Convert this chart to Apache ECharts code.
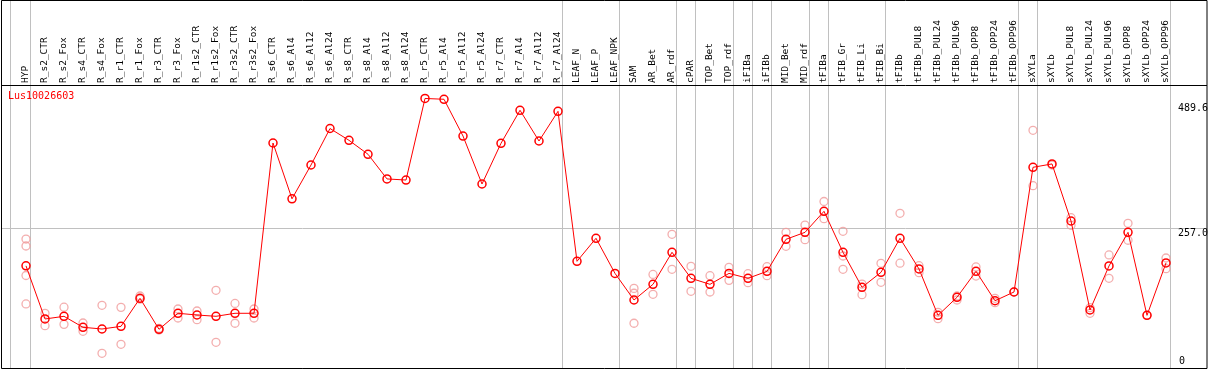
<!DOCTYPE html>
<html><head><meta charset="utf-8">
<script src="https://cdn.jsdelivr.net/npm/echarts@6/dist/echarts.min.js"></script>
<style>html,body{margin:0;padding:0;background:#fff}#c{width:1209px;height:370px}</style>
</head><body><div id="c"></div>
<script>
const chartTitle = 'Lus10026603';
const categories = ['HYP','R_s2_CTR','R_s2_Fox','R_s4_CTR','R_s4_Fox','R_r1_CTR','R_r1_Fox','R_r3_CTR','R_r3_Fox','R_r1s2_CTR','R_r1s2_Fox','R_r3s2_CTR','R_r3s2_Fox','R_s6_CTR','R_s6_Al4','R_s6_Al12','R_s6_Al24','R_s8_CTR','R_s8_Al4','R_s8_Al12','R_s8_Al24','R_r5_CTR','R_r5_Al4','R_r5_Al12','R_r5_Al24','R_r7_CTR','R_r7_Al4','R_r7_Al12','R_r7_Al24','LEAF_N','LEAF_P','LEAF_NPK','SAM','AR_Bet','AR_rdf','cPAR','TOP_Bet','TOP_rdf','iFIBa','iFIBb','MID_Bet','MID_rdf','tFIBa','tFIB_Gr','tFIB_Li','tFIB_Bi','tFIBb','tFIBb_PUL8','tFIBb_PUL24','tFIBb_PUL96','tFIBb_OPP8','tFIBb_OPP24','tFIBb_OPP96','sXYLa','sXYLb','sXYLb_PUL8','sXYLb_PUL24','sXYLb_PUL96','sXYLb_OPP8','sXYLb_OPP24','sXYLb_OPP96'];
const meanValues = [187,88,93,72.5,69.3,74.3,126.5,68.8,98.6,95.4,93,98.6,98.6,416,312,375,443,421,395,349,347,499,497.5,429,339.6,415.5,477,419.7,475,195.5,238.4,173,123.4,152.6,212.3,163.8,152.6,173,163.8,176.8,236.5,249.5,288.7,212.3,147,175,238.4,181.2,94.8,128.4,176.8,122,138.3,370.7,377,270.6,104.8,186.8,249.5,94.8,192.4];
const replicates = [
  [237,224,169,116],[98.6,75.5],[110,78],[80.5,65],[113.5,24],[109.7,40.8],[130.8,125],[70.6,67.5],[106.6,89.8],[102.9,86.7],[141.4,44.5],[117,80],[106.6,89.8],
  [],[],[],[],[],[],[],[],[],[],[],[],[],[],[],[],[],[],[],
  [145,136,80],[171,134],[245.8,180.6],[186.2,139.6],[168.7,138.3],[184.3,160],[172.4,155.6],[185.5,168.7],[249.5,223.4],[263,235.8],[307,275],[251.4,205.4,180.6],[153,133.3],[191.8,156.4],[285,192],[187.3,174.3],[100.5,88.5],[130.8,123.4],[185,168],[126.5,118.4],[138.3],[439.7,336.4],[375],[276.8,262.6],[109,98.6],[207.3,163.8],[266.3,234.7],[94.8],[201.7,181.7]
];
const tickValues = [0, 257.0, 489.6];
const separatorAfter = [0,28,31,34,35,37,38,39,41,42,45,52,53,60];

const FONT = 'DejaVu Sans Mono';
const repData = [];
replicates.forEach((arr, i) => arr.forEach(v => repData.push([categories[i], v])));

const chart = echarts.init(document.getElementById('c'), null, {renderer: 'canvas'});
chart.setOption({
  animation: false,
  backgroundColor: '#fff',
  title: {text: chartTitle, left: 8, top: 91, padding: 0,
    textStyle: {color: '#ff0000', fontSize: 10, fontWeight: 'normal', fontFamily: FONT}},
  grid: {left: 16.5, right: 33.5, top: 85, bottom: 2, containLabel: false},
  xAxis: {type: 'category', data: categories, position: 'top', boundaryGap: true,
    axisLine: {show: false}, axisTick: {show: false}, splitLine: {show: false},
    axisLabel: {rotate: 90, margin: 2, interval: 0, fontSize: 9.5, fontFamily: FONT, color: '#000'}},
  yAxis: {type: 'value', min: -3.36, max: 524.1, show: false, splitLine: {show: false}},
  series: [
    {type: 'scatter', data: repData, symbol: 'circle', symbolSize: 8, z: 2,
      itemStyle: {color: 'rgba(0,0,0,0)', borderColor: '#f09a9a', borderWidth: 1.3}},
    {type: 'line', data: meanValues, symbol: 'circle', symbolSize: 8, z: 3,
      lineStyle: {color: '#ff0000', width: 1},
      itemStyle: {color: 'rgba(0,0,0,0)', borderColor: '#ff0000', borderWidth: 1.5}}
  ]
});

const xPix = i => chart.convertToPixel({xAxisIndex: 0}, categories[i]);
const yPix = v => chart.convertToPixel({yAxisIndex: 0}, v);
const gray = '#c0c0c0';
const g = [];
g.push({type: 'line', z: 0, silent: true, shape: {x1: Math.round(xPix(0)) - 16 + 0.5, y1: 0, x2: Math.round(xPix(0)) - 16 + 0.5, y2: 368}, style: {stroke: gray, lineWidth: 1}});
separatorAfter.forEach(i => {
  const x = Math.round(xPix(i)) + 4 + 0.5;
  g.push({type: 'line', z: 0, silent: true, shape: {x1: x, y1: 0, x2: x, y2: 368}, style: {stroke: gray, lineWidth: 1}});
});
const yMid = Math.round(yPix(257.0)) + 0.5;
g.push({type: 'line', z: 0, silent: true, shape: {x1: 1, y1: yMid, x2: 1207, y2: yMid}, style: {stroke: gray, lineWidth: 1}});
tickValues.forEach(v => {
  const isZero = v === 0;
  g.push({type: 'text', z: 5, silent: true, x: isZero ? 1179 : 1178, y: isZero ? yPix(v) : yPix(v),
    style: {text: isZero ? '0' : v.toFixed(1), fill: '#000', font: '10px "' + FONT + '"',
      textAlign: 'left', textVerticalAlign: isZero ? 'bottom' : 'top'}});
});
g.push({type: 'rect', z: 20, silent: true, shape: {x: 1.5, y: 0.5, width: 1205.5, height: 368}, style: {fill: 'none', stroke: '#000', lineWidth: 1}});
g.push({type: 'line', z: 20, silent: true, shape: {x1: 1, y1: 85.5, x2: 1207, y2: 85.5}, style: {stroke: '#000', lineWidth: 1}});
chart.setOption({graphic: g});
</script></body></html>
